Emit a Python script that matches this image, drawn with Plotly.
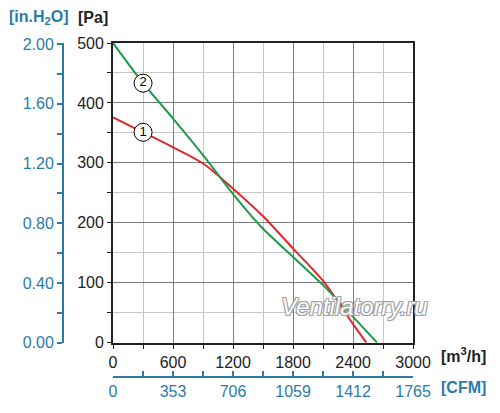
import plotly.graph_objects as go

# fan curves (flow in m3/h, pressure in Pa)
flow_1 = [0, 300, 600, 900, 1200, 1500, 1800, 2100, 2400, 2533]
pres_1 = [376, 351, 326, 299, 257, 211, 157, 103, 31, 0]

flow_2 = [0, 300, 600, 900, 1200, 1500, 1800, 2100, 2400, 2640]
pres_2 = [500, 433, 374, 313, 248, 190, 143, 96, 43, 0]

# curve number badges
badge_x = [300, 300]
badge_y = [351, 433]
badge_text = ["1", "2"]

x_ticks = [0, 600, 1200, 1800, 2400, 3000]
y_ticks = [0, 100, 200, 300, 400, 500]
cfm_labels = ["0", "353", "706", "1059", "1412", "1765"]
inh2o_ticks = [0.0, 0.4, 0.8, 1.2, 1.6, 2.0]

M3H_PER_CFM = 1.699
PA_PER_INH2O = 249.09

BLUE = "#2a7ca6"
FONT = "Liberation Sans, Arial, sans-serif"
FS = 16

fig = go.Figure()

fig.add_trace(go.Scatter(x=flow_1, y=pres_1, mode="lines",
                         line=dict(color="#e3262b", width=2, shape="spline", smoothing=0.8),
                         hoverinfo="skip"))
fig.add_trace(go.Scatter(x=flow_2, y=pres_2, mode="lines",
                         line=dict(color="#1e9a4a", width=2, shape="spline", smoothing=0.7),
                         hoverinfo="skip"))
fig.add_trace(go.Scatter(
    x=badge_x, y=badge_y, mode="markers+text", text=badge_text,
    textposition="middle center",
    textfont=dict(size=13, color="black", family=FONT),
    marker=dict(size=18, color="white", line=dict(color="black", width=1)),
    hoverinfo="skip"))
# dummy trace so the secondary scales get drawn
fig.add_trace(go.Scatter(x=[0, 3000 / M3H_PER_CFM], y=[0, 500 / PA_PER_INH2O],
                         mode="markers", marker=dict(opacity=0),
                         xaxis="x2", yaxis="y2", hoverinfo="skip"))

fig.update_layout(
    width=500, height=413,
    margin=dict(l=40, r=20, t=40, b=20),
    plot_bgcolor="white", paper_bgcolor="white",
    showlegend=False,
    font=dict(family=FONT, size=FS, color="#222"),
    xaxis=dict(
        domain=[0.166, 0.848], range=[0, 3000], automargin=False,
        tickvals=x_ticks, ticks="outside", ticklen=4, tickcolor="#222",
        showline=True, linecolor="#222", linewidth=2, mirror=True,
        showgrid=True, gridcolor="#7d7d7d", gridwidth=1.3,
        minor=dict(dtick=300, showgrid=True, gridcolor="#c6c6c6", gridwidth=1,
                   ticks="outside", ticklen=4, tickcolor="#222"),
        zeroline=False, tickfont=dict(size=FS, color="#222"),
    ),
    yaxis=dict(
        domain=[0.1425, 0.9915], range=[0, 500], automargin=False,
        tickvals=y_ticks, ticks="outside", ticklen=4, tickcolor="#222",
        showline=True, linecolor="#222", linewidth=2, mirror=True,
        showgrid=True, gridcolor="#7d7d7d", gridwidth=1.3,
        minor=dict(dtick=50, showgrid=True, gridcolor="#c6c6c6", gridwidth=1,
                   ticks="outside", ticklen=4, tickcolor="#222"),
        zeroline=False, tickfont=dict(size=FS, color="#222"),
    ),
    xaxis2=dict(
        overlaying="x", anchor="free", position=0.0453, side="bottom",
        range=[0, 3000 / M3H_PER_CFM], automargin=False,
        tickvals=[v / M3H_PER_CFM for v in x_ticks], ticktext=cfm_labels,
        ticks="inside", ticklen=5, tickcolor=BLUE, tickwidth=2,
        minor=dict(tickvals=[v / M3H_PER_CFM for v in range(300, 3000, 600)],
                   ticks="inside", ticklen=5, tickcolor=BLUE, tickwidth=2),
        showline=True, linecolor=BLUE, linewidth=2,
        showgrid=False, zeroline=False,
        tickfont=dict(size=FS, color=BLUE),
    ),
    yaxis2=dict(
        overlaying="y", anchor="free", position=0.0523, side="left",
        range=[0, 500 / PA_PER_INH2O], automargin=False,
        tickvals=inh2o_ticks, tickformat=".2f",
        ticks="outside", ticklen=5, tickcolor=BLUE, tickwidth=2,
        minor=dict(dtick=0.2, ticks="outside", ticklen=5, tickcolor=BLUE, tickwidth=2),
        showline=True, linecolor=BLUE, linewidth=2,
        showgrid=False, zeroline=False,
        tickfont=dict(size=FS, color=BLUE),
    ),
)

annotations = [
    dict(text="<b>[in.H<sub>2</sub>O]</b>", x=39, y=17, color=BLUE),
    dict(text="<b>[Pa]</b>", x=93, y=17, color="#222"),
    dict(text="<b>[m<sup>3</sup>/h]</b>", x=463, y=355, color="#222"),
    dict(text="<b>[CFM]</b>", x=463, y=387, color=BLUE),
]
for a in annotations:
    fig.add_annotation(
        text=a["text"], xref="paper", yref="paper",
        x=(a["x"] - 40) / 440, y=(393 - a["y"]) / 353,
        xanchor="center", yanchor="middle", showarrow=False,
        font=dict(size=FS, color=a["color"], family=FONT),
    )

# watermark
fig.add_annotation(
    text="Ventilatorry.ru", xref="paper", yref="paper",
    x=(354 - 40) / 440, y=(393 - 306) / 353,
    xanchor="center", yanchor="middle", showarrow=False,
    font=dict(size=24, color="#fafafa", family=FONT, style="italic",
              shadow="1px 1px 0 #a0a0a0, -1px -1px 0 #a0a0a0, 1px -1px 0 #a0a0a0, -1px 1px 0 #a0a0a0"),
)

# drop the browser's default body margin so the figure sits at (0, 0)
fig.write_html("out.html", config={"displayModeBar": False},
               post_script="document.body.style.margin = '0';")
